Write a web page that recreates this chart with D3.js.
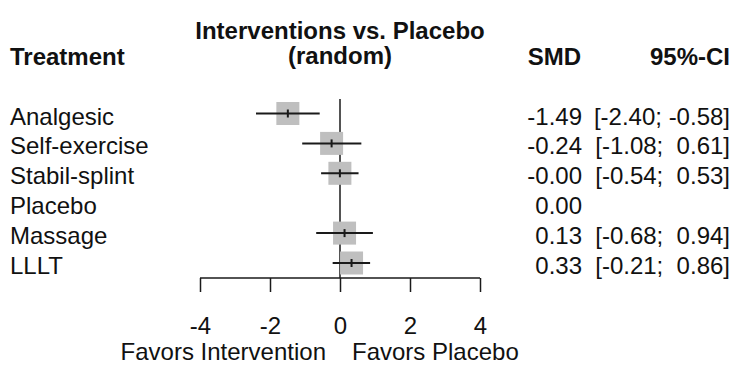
<!DOCTYPE html>
<html>
<head>
<meta charset="utf-8">
<script src="https://cdn.jsdelivr.net/npm/d3@7"></script>
<style>
  body { margin: 0; background: #fff; }
  svg text { font-family: Arial, "Liberation Sans", sans-serif; fill: #111; white-space: pre; }
</style>
</head>
<body>
<svg id="chart" width="736" height="365"></svg>
<script>
// forest plot data
var treatments = ["Analgesic", "Self-exercise", "Stabil-splint", "Placebo", "Massage", "LLLT"];
var smd = [-1.49, -0.24, -0.003, 0, 0.13, 0.33];
var lower = [-2.40, -1.08, -0.54, null, -0.68, -0.21];
var upper = [-0.58, 0.61, 0.53, null, 0.94, 0.86];
var tickValues = [-4, -2, 0, 2, 4];

var svg = d3.select("#chart"),
  fsReg = 24,
  fsBold = 24,
  boxSize = 23;

var x = d3.scaleLinear().domain([-4, 4]).range([200, 480]);
var y = d3.scalePoint().domain(treatments).range([113.5, 263]);

// headers
svg.append("text").attr("x", 10).attr("y", 65)
  .style("font-size", fsBold + "px").style("font-weight", "bold").text("Treatment");
svg.append("text").attr("x", x(0)).attr("y", 39).attr("text-anchor", "middle")
  .style("font-size", fsBold + "px").style("font-weight", "bold").text("Interventions vs. Placebo");
svg.append("text").attr("x", x(0)).attr("y", 64).attr("text-anchor", "middle")
  .style("font-size", fsBold + "px").style("font-weight", "bold").text("(random)");
svg.append("text").attr("x", 581).attr("y", 65).attr("text-anchor", "end")
  .style("font-size", fsBold + "px").style("font-weight", "bold").text("SMD");
svg.append("text").attr("x", 730).attr("y", 65).attr("text-anchor", "end")
  .style("font-size", fsBold + "px").style("font-weight", "bold").text("95%-CI");

// reference line at zero
svg.append("line")
  .attr("x1", x(0)).attr("x2", x(0))
  .attr("y1", 99).attr("y2", 278)
  .attr("stroke", "#1a1a1a").attr("stroke-width", 1.5);

var rows = treatments.map(function(t, i) {
  return { name: t, est: smd[i], lo: lower[i], hi: upper[i] };
});
var withCI = rows.filter(function(d) { return d.lo !== null; });

var g = svg.append("g");

// boxes
g.selectAll(".box")
  .data(withCI)
  .enter().append("rect")
  .attr("class", "box")
  .attr("x", function(d) { return x(d.est) - boxSize / 2; })
  .attr("y", function(d) { return y(d.name) - boxSize / 2; })
  .attr("width", boxSize).attr("height", boxSize)
  .attr("fill", "#bfbfbf");

// confidence intervals
g.selectAll(".ci")
  .data(withCI)
  .enter().append("line")
  .attr("class", "ci")
  .attr("x1", function(d) { return x(d.lo); })
  .attr("x2", function(d) { return x(d.hi); })
  .attr("y1", function(d) { return y(d.name); })
  .attr("y2", function(d) { return y(d.name); })
  .attr("stroke", "#1a1a1a").attr("stroke-width", 2);

// point estimate mark
g.selectAll(".est")
  .data(withCI)
  .enter().append("line")
  .attr("class", "est")
  .attr("x1", function(d) { return x(d.est); })
  .attr("x2", function(d) { return x(d.est); })
  .attr("y1", function(d) { return y(d.name) - 4; })
  .attr("y2", function(d) { return y(d.name) + 4; })
  .attr("stroke", "#1a1a1a").attr("stroke-width", 2);

// row labels and values
g.selectAll(".lab")
  .data(rows).enter().append("text")
  .attr("class", "lab")
  .attr("x", 10)
  .attr("y", function(d) { return y(d.name) + 11; })
  .style("font-size", fsReg + "px")
  .text(function(d) { return d.name; });

g.selectAll(".smd")
  .data(rows).enter().append("text")
  .attr("class", "smd")
  .attr("x", 582).attr("text-anchor", "end")
  .attr("y", function(d) { return y(d.name) + 11; })
  .style("font-size", fsReg + "px")
  .text(function(d) { return d.est.toFixed(2); });

g.selectAll(".cis")
  .data(withCI)
  .enter().append("text")
  .attr("class", "cis")
  .attr("x", 730).attr("text-anchor", "end")
  .attr("y", function(d) { return y(d.name) + 11; })
  .style("font-size", fsReg + "px")
  .text(function(d) {
    return "[" + d.lo.toFixed(2) + ";" + (d.hi < 0 ? " " : "  ") + d.hi.toFixed(2) + "]";
  });

// x axis
var axis = svg.append("g")
  .attr("transform", "translate(0,278)")
  .call(d3.axisBottom(x).tickValues(tickValues).tickSize(14)
    .tickFormat(function(d) { return d; }));
axis.select(".domain").attr("stroke", "#1a1a1a").attr("stroke-width", 1.5)
  .attr("d", "M" + x(-4) + ",0H" + x(4));
axis.selectAll(".tick line").attr("stroke", "#1a1a1a").attr("stroke-width", 1.5);
axis.selectAll(".tick text")
  .attr("dy", null).attr("y", 56)
  .style("font-size", fsReg + "px").style("font-family", "Arial, 'Liberation Sans', sans-serif")
  .attr("fill", "#111");

svg.append("text").attr("x", 326).attr("y", 360).attr("text-anchor", "end")
  .style("font-size", fsReg + "px").text("Favors Intervention");
svg.append("text").attr("x", 352).attr("y", 360)
  .style("font-size", fsReg + "px").text("Favors Placebo");
</script>
</body>
</html>
